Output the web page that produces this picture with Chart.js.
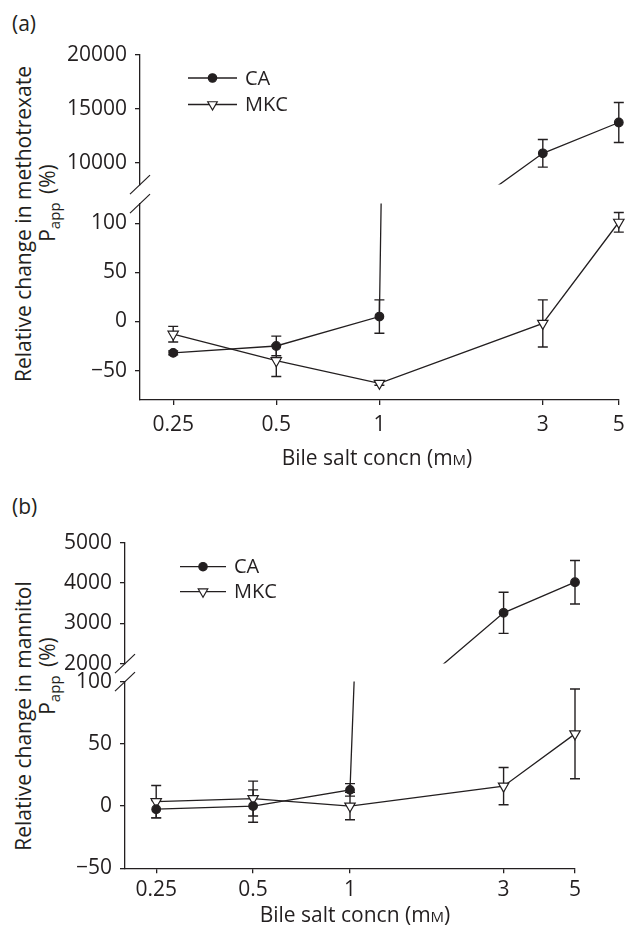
<!DOCTYPE html>
<html>
<head>
<meta charset="utf-8">
<script src="https://cdn.jsdelivr.net/npm/chart.js@4.4.1/dist/chart.umd.min.js"></script>
<style>
  html, body { margin: 0; padding: 0; background: #fff; }
  #page { position: relative; width: 626px; height: 926px; overflow: hidden; font-family: 'Open Sans', sans-serif; color: #231f20; }
  #page canvas { position: absolute; left: 0; }
  .lbl { position: absolute; font-size: 21px; line-height: 21px; white-space: nowrap; }
  .ytitle { position: absolute; font-size: 21px; line-height: 21px; white-space: nowrap; transform: translate(-50%, -50%) rotate(-90deg); }
  .xtitle { position: absolute; font-size: 21px; line-height: 21px; white-space: nowrap; transform: translate(-50%, -50%); }
  sub { font-size: 15px; vertical-align: -5px; line-height: 0; margin-right: 3px; }
  .sc { font-variant: small-caps; }
</style>
</head>
<body>
<div id="page">
  <div class="lbl" style="left:12px;top:13px">(a)</div>
  <div class="ytitle" style="left:23px;top:224px">Relative change in methotrexate</div>
  <div class="ytitle" style="left:47px;top:203px">P<sub>app</sub> (%)</div>
  <canvas id="chartA" width="626" height="470" style="top:0"></canvas>
  <div class="xtitle" style="left:377px;top:457px">Bile salt concn (m<span class="sc">m</span>)</div>

  <div class="lbl" style="left:12px;top:496px">(b)</div>
  <div class="ytitle" style="left:23px;top:716px">Relative change in mannitol</div>
  <div class="ytitle" style="left:47px;top:676px">P<sub>app</sub> (%)</div>
  <canvas id="chartB" width="626" height="456" style="top:470px"></canvas>
  <div class="xtitle" style="left:355px;top:914px">Bile salt concn (m<span class="sc">m</span>)</div>
</div>

<script>
// bile salt concentrations (mM) and x tick labels
const concn = [0.25, 0.5, 1, 3, 5];
const xTickLabels = ['0.25', '0.5', '1', '3', '5'];
const seriesNames = ['CA', 'MKC'];

// (a) methotrexate Papp, relative change (%)
const caMtx = [-32, -25, 5, 10900, 13750];
const caMtxErr = [2, 10, 17, 1280, 1850];
const mkcMtx = [-13, -40, -63, -2, 101];
const mkcMtxErr = [8, 16, 2, 24, 10];
const mtxTopTicks = [10000, 15000, 20000];
const mtxBotTicks = [-50, 0, 50, 100];

// (b) mannitol Papp, relative change (%)
const caMan = [-2.5, 0, 13, 3260, 4020];
const caManErr = [7, 13, 5, 510, 540];
const mkcMan = [3.5, 6, 0, 16, 58];
const mkcManErr = [13, 14, 11, 15, 36];
const manTopTicks = [2000, 3000, 4000, 5000];
const manBotTicks = [-50, 0, 50, 100];

const ink = '#231f20';
Chart.defaults.font.family = "'Open Sans', sans-serif";
Chart.defaults.font.size = 21;
Chart.defaults.color = ink;

function fmt(v) {
    return v < 0 ? '\u2212' + Math.abs(v) : String(v);
}

function yAxis(min, max, ticks, weight) {
    return {
        type: 'linear', position: 'left', stack: 'y', stackWeight: weight,
        min: min, max: max,
        afterBuildTicks: s => { s.ticks = ticks.map(v => ({ value: v })); },
        afterFit: s => { s.width = 90; s.paddingTop = 0; s.paddingBottom = 0; },
        ticks: { padding: 8, autoSkip: false, callback: v => fmt(v) },
        grid: { drawOnChartArea: false, tickLength: 5, color: ink, lineWidth: 1.3 },
        border: { color: ink, width: 1.3 }
    };
}

function xAxis(pad) {
    return {
        type: 'logarithmic', position: 'bottom', min: 0.2, max: 5,
        afterBuildTicks: s => { s.ticks = concn.map(v => ({ value: v })); },
        afterFit: s => { s.height = 40; s.paddingLeft = 0; s.paddingRight = 0; },
        ticks: { padding: pad, autoSkip: false, maxRotation: 0, callback: (v, i) => xTickLabels[i] },
        grid: { drawOnChartArea: false, tickLength: 5, color: ink, lineWidth: 1.3 },
        border: { color: ink, width: 1.3 }
    };
}

function series(label, values, errors, axis, marker) {
    const dot = marker === 'circle';
    return {
        label: label, yAxisID: axis, errors: errors,
        data: concn.map((x, i) => ({ x: x, y: values[i] })),
        borderColor: ink, borderWidth: 1.3, tension: 0,
        pointStyle: dot ? 'circle' : 'triangle',
        pointRotation: dot ? 0 : 180,
        pointRadius: dot ? 4.3 : 6,
        pointBackgroundColor: dot ? ink : '#fff',
        pointBorderColor: ink, pointBorderWidth: 1.2,
        clip: { left: 12, right: 12, top: 0, bottom: 0 }
    };
}

// vertical error bars with caps, drawn under the markers
const errorBars = {
    id: 'errorBars',
    beforeDatasetsDraw(chart) {
        const ctx = chart.ctx;
        chart.data.datasets.forEach((ds, di) => {
            if (!ds.errors) return;
            const meta = chart.getDatasetMeta(di);
            const xs = meta.xScale, ys = meta.yScale;
            ctx.save();
            ctx.beginPath();
            ctx.rect(xs.left - 12, ys.top, xs.width + 24, ys.height);
            ctx.clip();
            ctx.strokeStyle = ink;
            ctx.lineWidth = 1.4;
            ds.data.forEach((p, i) => {
                if (p.y < ys.min || p.y > ys.max) return;
                const x = xs.getPixelForValue(p.x);
                const lo = ys.getPixelForValue(p.y - ds.errors[i]);
                const hi = ys.getPixelForValue(p.y + ds.errors[i]);
                ctx.beginPath();
                ctx.moveTo(x, lo); ctx.lineTo(x, hi);
                ctx.moveTo(x - 5, lo); ctx.lineTo(x + 5, lo);
                ctx.moveTo(x - 5, hi); ctx.lineTo(x + 5, hi);
                ctx.stroke();
            });
            ctx.restore();
        });
    }
};

// the // marks where the y axis is broken
const axisBreak = {
    id: 'axisBreak',
    afterDraw(chart) {
        const top = chart.scales.yTop, bot = chart.scales.yBot;
        const x = bot.right;
        const ctx = chart.ctx;
        ctx.save();
        ctx.strokeStyle = ink;
        ctx.lineWidth = 1.2;
        [top.bottom, bot.top].forEach(y => {
            ctx.beginPath();
            ctx.moveTo(x - 10, y + 9.5);
            ctx.lineTo(x + 10, y - 9.5);
            ctx.stroke();
        });
        ctx.restore();
    }
};

// legend: short line with the marker in the middle, then the name
const lineLegend = {
    id: 'lineLegend',
    afterDraw(chart, args, opts) {
        const ctx = chart.ctx;
        ctx.save();
        seriesNames.forEach((name, i) => {
            const y = opts.y + i * opts.step;
            const mid = opts.x + opts.len / 2;
            ctx.strokeStyle = ink;
            ctx.lineWidth = 1.3;
            ctx.beginPath();
            ctx.moveTo(opts.x, y);
            ctx.lineTo(opts.x + opts.len, y);
            ctx.stroke();
            const dot = i === 0;
            ctx.fillStyle = dot ? ink : '#fff';
            ctx.lineWidth = 1.2;
            Chart.helpers.drawPoint(ctx, {
                pointStyle: dot ? 'circle' : 'triangle',
                rotation: dot ? 0 : 180,
                radius: dot ? 4.2 : 5.5,
                borderWidth: 1.2
            }, mid, y);
            ctx.fillStyle = ink;
            ctx.font = "20px 'Open Sans', sans-serif";
            ctx.textBaseline = 'middle';
            ctx.textAlign = 'left';
            ctx.fillText(name, opts.x + opts.len + 8, y + 1);
        });
        ctx.restore();
    }
};

function makePanel(id, p) {
    return new Chart(document.getElementById(id), {
        type: 'line',
        data: {
            datasets: [
                series('CA', p.ca, p.caErr, 'yTop', 'circle'),
                series('CA', p.ca, p.caErr, 'yBot', 'circle'),
                series('MKC', p.mkc, p.mkcErr, 'yBot', 'triangle')
            ]
        },
        options: {
            responsive: false,
            animation: false,
            events: [],
            layout: { padding: p.padding },
            plugins: {
                legend: { display: false },
                tooltip: { enabled: false },
                lineLegend: p.legend
            },
            // left boxes are stacked in reverse order: the last one ends up on top
            scales: {
                x: xAxis(p.xPad),
                yBot: yAxis(p.bot[0], p.bot[1], p.botTicks, p.weights[2]),
                yGap: { type: 'linear', position: 'left', stack: 'y', stackWeight: p.weights[1], display: false },
                yTop: yAxis(p.top[0], p.top[1], p.topTicks, p.weights[0])
            }
        },
        plugins: [errorBars, axisBreak, lineLegend]
    });
}

makePanel('chartA', {
    ca: caMtx, caErr: caMtxErr, mkc: mkcMtx, mkcErr: mkcMtxErr,
    top: [8000, 20000], topTicks: mtxTopTicks,
    bot: [-80, 120], botTicks: mtxBotTicks,
    weights: [129.6, 19, 196.4],
    padding: { left: 50, right: 5, top: 55, bottom: 30 },
    xPad: 7,
    legend: { x: 188, y: 78, step: 26.5, len: 49 }
});

makePanel('chartB', {
    ca: caMan, caErr: caManErr, mkc: mkcMan, mkcErr: mkcManErr,
    top: [2000, 5000], topTicks: manTopTicks,
    bot: [-50, 100], botTicks: manBotTicks,
    weights: [120.9, 18, 186.7],
    padding: { left: 35, right: 51, top: 72.7, bottom: 17.7 },
    xPad: 4,
    legend: { x: 180, y: 96.7, step: 25, len: 46 }
});
</script>
</body>
</html>
